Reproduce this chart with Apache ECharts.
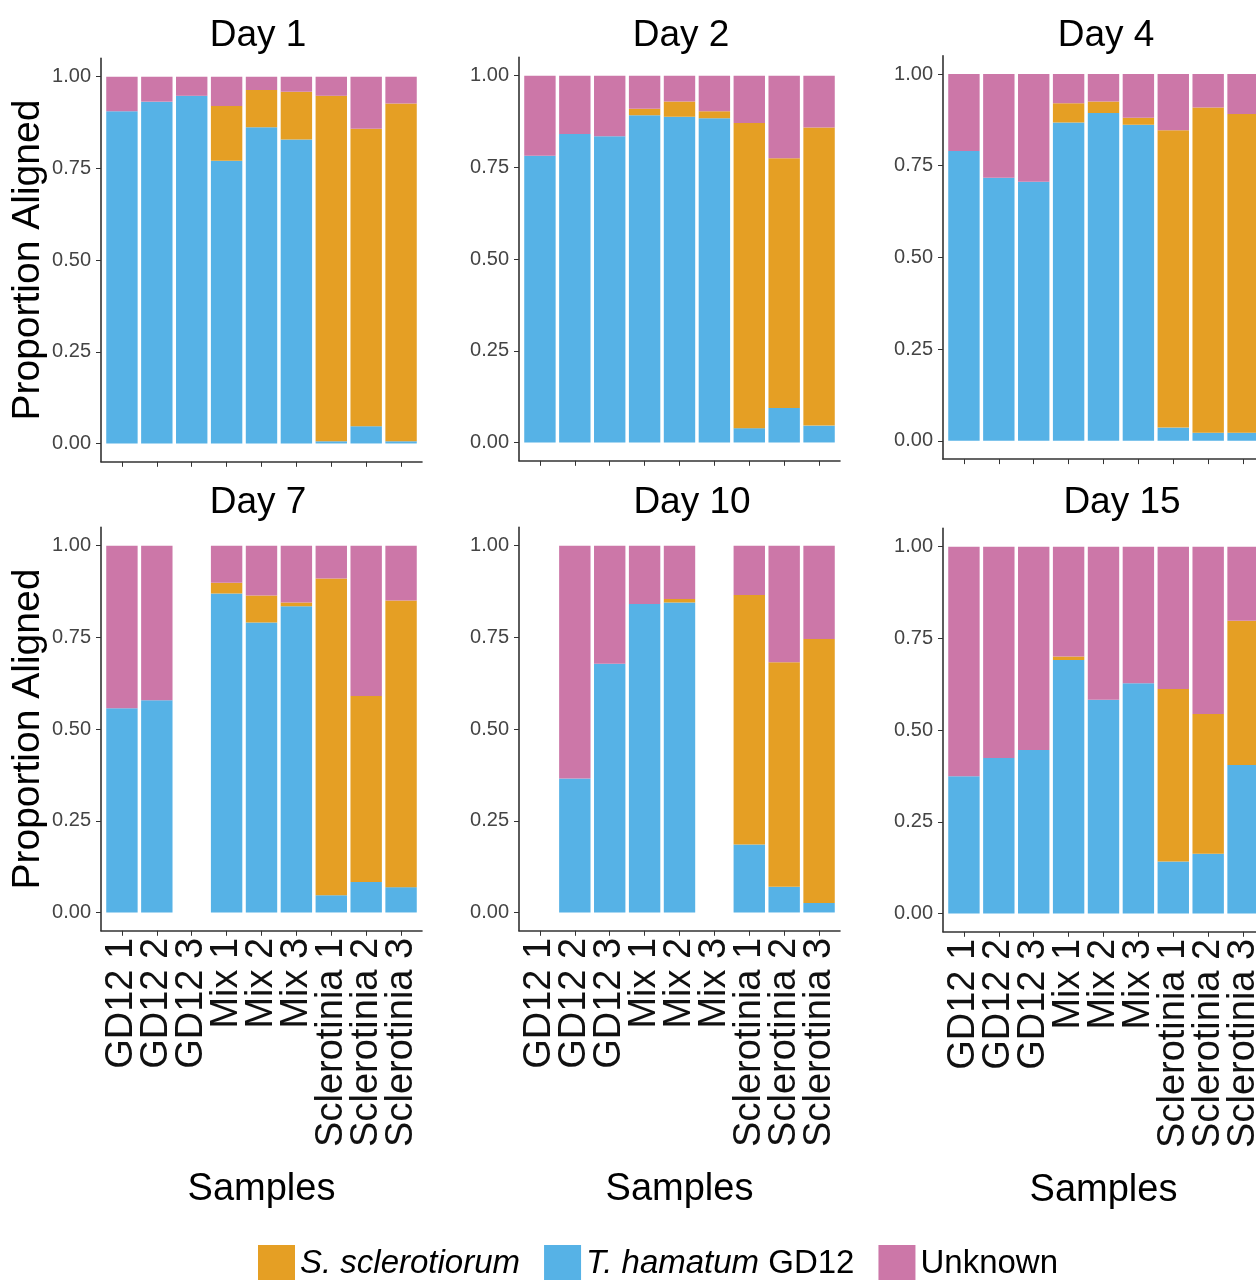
<!DOCTYPE html>
<html>
<head>
<meta charset="utf-8">
<script src="https://cdn.jsdelivr.net/npm/echarts@6/dist/echarts.min.js"></script>
<style>
html,body{margin:0;padding:0;background:#fff;}
#chart{width:1256px;height:1280px;}
</style>
</head>
<body>
<div id="chart"></div>
<script>
// ---------- data ----------
const categories = ['GD12 1','GD12 2','GD12 3','Mix 1','Mix 2','Mix 3','Sclerotinia 1','Sclerotinia 2','Sclerotinia 3'];
const dayTitles = ['Day 1','Day 2','Day 4','Day 7','Day 10','Day 15'];
const yTickValues = [0, 0.25, 0.5, 0.75, 1];
const legendNames = ['S. sclerotiorum','T. hamatum GD12','Unknown'];

// T. hamatum GD12 (blue, bottom of stack)
const day1Hamatum  = [0.906, 0.932, 0.948, 0.771, 0.862, 0.829, 0.006, 0.047, 0.006];
const day2Hamatum  = [0.782, 0.841, 0.835, 0.892, 0.888, 0.884, 0.039, 0.094, 0.046];
const day4Hamatum  = [0.790, 0.717, 0.706, 0.868, 0.894, 0.862, 0.036, 0.022, 0.022];
const day7Hamatum  = [0.557, 0.579, null, 0.870, 0.791, 0.835, 0.047, 0.083, 0.069];
const day10Hamatum = [null, 0.365, 0.678, 0.841, 0.845, null, 0.185, 0.070, 0.026];
const day15Hamatum = [0.374, 0.424, 0.446, 0.691, 0.583, 0.628, 0.142, 0.163, 0.405];

// S. sclerotiorum (orange, middle)
const day1Sclero  = [0, 0, 0, 0.149, 0.102, 0.130, 0.942, 0.811, 0.921];
const day2Sclero  = [0, 0, 0, 0.018, 0.042, 0.019, 0.832, 0.681, 0.813];
const day4Sclero  = [0, 0, 0, 0.052, 0.031, 0.019, 0.811, 0.887, 0.869];
const day7Sclero  = [0, 0, null, 0.029, 0.073, 0.010, 0.864, 0.507, 0.782];
const day10Sclero = [null, 0, 0, 0, 0.010, null, 0.681, 0.612, 0.720];
const day15Sclero = [0, 0, 0, 0.010, 0, 0, 0.470, 0.381, 0.393];

// Unknown (pink, top)
const day1Unknown  = [0.094, 0.068, 0.052, 0.080, 0.036, 0.041, 0.052, 0.142, 0.073];
const day2Unknown  = [0.218, 0.159, 0.165, 0.090, 0.070, 0.097, 0.129, 0.225, 0.141];
const day4Unknown  = [0.210, 0.283, 0.294, 0.080, 0.075, 0.119, 0.153, 0.091, 0.109];
const day7Unknown  = [0.443, 0.421, null, 0.101, 0.136, 0.155, 0.089, 0.410, 0.149];
const day10Unknown = [null, 0.635, 0.322, 0.159, 0.145, null, 0.134, 0.318, 0.254];
const day15Unknown = [0.626, 0.576, 0.554, 0.299, 0.417, 0.372, 0.388, 0.456, 0.202];

const hamatumByDay = [day1Hamatum, day2Hamatum, day4Hamatum, day7Hamatum, day10Hamatum, day15Hamatum];
const scleroByDay  = [day1Sclero, day2Sclero, day4Sclero, day7Sclero, day10Sclero, day15Sclero];
const unknownByDay = [day1Unknown, day2Unknown, day4Unknown, day7Unknown, day10Unknown, day15Unknown];

// ---------- layout / style ----------
const FONT = '"Liberation Sans", Arial, Helvetica, sans-serif';
const COLORS = { sclero: '#E59F24', hamatum: '#56B2E6', unknown: '#CC77A8' };
const panels = [
  { left: 101, top: 58.4,  titleX: 258,  titleY: 17 },
  { left: 519, top: 57.4,  titleX: 681,  titleY: 17 },
  { left: 943, top: 55.7,  titleX: 1106, titleY: 17 },
  { left: 101, top: 527.4, titleX: 258,  titleY: 484 },
  { left: 519, top: 527.4, titleX: 692,  titleY: 484 },
  { left: 943, top: 528.4, titleX: 1122, titleY: 484 }
];
const PW = 321, PH = 403.4;
const BAND = PW / 9.2;          // discrete axis expanded by 0.6 band each side
const PAD = BAND * 0.1;          // extra beyond the half-band ECharts adds

const grids = [], xAxes = [], yAxes = [], titles = [], series = [];

panels.forEach((p, k) => {
  const gBars = k * 2, gFrame = k * 2 + 1;
  const bottomRow = k >= 3;
  const leftCol = (k % 3) === 0;
  // grid for bars (band region) and grid for the axis frame
  grids.push({ left: p.left + PAD, top: p.top, width: PW - 2 * PAD, height: PH, containLabel: false, outerBoundsMode: 'none' });
  grids.push({ left: p.left, top: p.top, width: PW, height: PH, containLabel: false, outerBoundsMode: 'none' });

  titles.push({
    text: dayTitles[k], left: p.titleX, top: p.titleY, textAlign: 'center', padding: 0,
    textStyle: { fontFamily: FONT, fontSize: 37, fontWeight: 'normal', color: '#000' }
  });

  // category axis for bars: ticks + labels
  xAxes.push({
    gridIndex: gBars, type: 'category', data: categories, boundaryGap: true, position: 'bottom',
    axisLine: { show: false, onZero: false },
    axisTick: { show: true, alignWithLabel: true, interval: 0, length: 5, lineStyle: { color: '#333', width: 1 } },
    axisLabel: {
      show: bottomRow, interval: 0, rotate: 90, margin: 7,
      fontFamily: FONT, fontSize: 38, color: '#111'
    },
    splitLine: { show: false }
  });
  yAxes.push({
    gridIndex: gBars, type: 'value', min: -0.05, max: 1.05, show: false,
    axisLine: { onZero: false }, splitLine: { show: false }
  });

  // frame axes
  xAxes.push({
    gridIndex: gFrame, type: 'value', min: 0, max: 1, position: 'bottom',
    axisLine: { show: true, onZero: false, lineStyle: { color: '#333', width: 1.6 } },
    axisTick: { show: false }, axisLabel: { show: false }, splitLine: { show: false },
    name: bottomRow ? 'Samples' : '', nameLocation: 'middle', nameGap: 240,
    nameTextStyle: { fontFamily: FONT, fontSize: 38, color: '#000' }
  });
  yAxes.push({
    gridIndex: gFrame, type: 'value', min: -0.05, max: 1.05, position: 'left',
    axisLine: { show: true, onZero: false, lineStyle: { color: '#333', width: 1.6 } },
    axisTick: { show: true, customValues: yTickValues, length: 5, lineStyle: { color: '#333', width: 1 } },
    axisLabel: {
      customValues: yTickValues, margin: 10,
      fontFamily: FONT, fontSize: 20, color: '#444',
      formatter: v => Number(v).toFixed(2)
    },
    splitLine: { show: false },
    name: leftCol ? 'Proportion Aligned' : '', nameLocation: 'middle', nameGap: 52, nameRotate: 90,
    nameTextStyle: { fontFamily: FONT, fontSize: 39, color: '#000' }
  });

  const toData = arr => arr.map(v => v == null ? '-' : v);
  const common = { type: 'bar', xAxisIndex: gBars, yAxisIndex: gBars, stack: 'panel' + k, barWidth: '90%', silent: true };
  series.push(Object.assign({}, common, { name: 'T. hamatum GD12', data: toData(hamatumByDay[k]), itemStyle: { color: COLORS.hamatum } }));
  series.push(Object.assign({}, common, { name: 'S. sclerotiorum', data: toData(scleroByDay[k]), itemStyle: { color: COLORS.sclero } }));
  series.push(Object.assign({}, common, { name: 'Unknown', data: toData(unknownByDay[k]), itemStyle: { color: COLORS.unknown } }));
});

const chart = echarts.init(document.getElementById('chart'), null, { renderer: 'canvas' });
chart.setOption({
  animation: false,
  backgroundColor: '#fff',
  color: [COLORS.hamatum, COLORS.sclero, COLORS.unknown],
  title: titles,
  grid: grids,
  xAxis: xAxes,
  yAxis: yAxes,
  legend: {
    data: legendNames, left: 258, top: 1245, padding: 0,
    icon: 'rect', itemWidth: 37, itemHeight: 38, itemGap: 24,
    selectedMode: false,
    formatter: name => name === 'S. sclerotiorum' ? '{i|S. sclerotiorum}'
                    : name === 'T. hamatum GD12' ? '{i|T. hamatum} {n|GD12}'
                    : '{n|Unknown}',
    textStyle: {
      fontFamily: FONT, fontSize: 33, color: '#000',
      rich: {
        i: { fontFamily: FONT, fontSize: 33, fontStyle: 'italic', color: '#000' },
        n: { fontFamily: FONT, fontSize: 33, color: '#000' }
      }
    }
  },
  series: series
});
</script>
</body>
</html>
